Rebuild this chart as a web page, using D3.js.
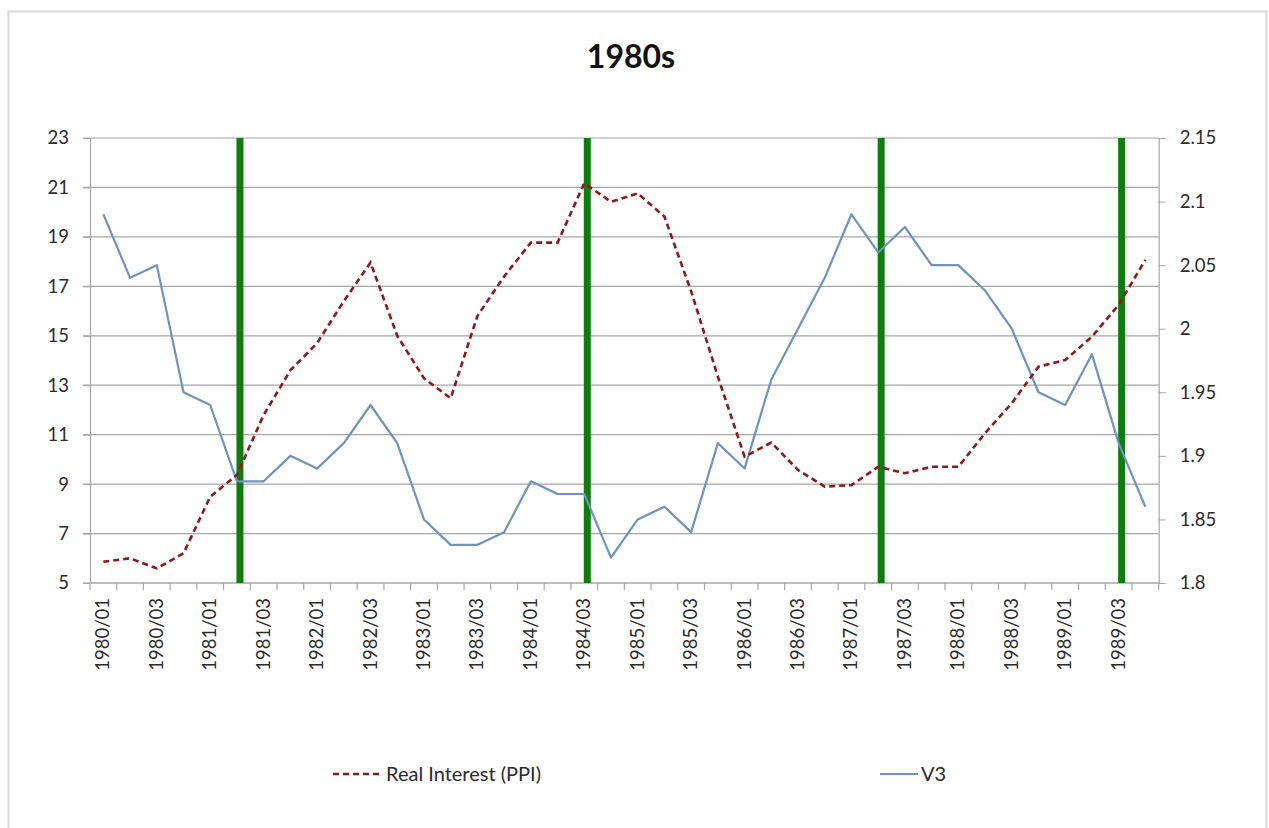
<!DOCTYPE html>
<html>
<head>
<meta charset="utf-8">
<script src="https://cdn.jsdelivr.net/npm/d3@7"></script>
<style>
  html, body { margin: 0; padding: 0; background: #fff; }
  svg { display: block; font-family: Lato, "Open Sans", sans-serif; }
</style>
</head>
<body>
<svg id="chart" width="1269" height="828"></svg>
<script>
// Quarterly periods, 1980 Q1 through 1989 Q4
const quarters = [];
for (let y = 1980; y <= 1989; y++) for (let q = 1; q <= 4; q++) quarters.push(`${y}/0${q}`);

// Real interest rate deflated by PPI (left axis)
const realInterest = [
  5.86, 6.0, 5.59, 6.2, 8.49, 9.37, 11.8, 13.6, 14.7, 16.4,
  17.96, 15.0, 13.28, 12.47, 15.8, 17.4, 18.77, 18.77, 21.17, 20.42,
  20.76, 19.82, 16.8, 13.35, 10.11, 10.68, 9.57, 8.9, 8.96, 9.7,
  9.44, 9.7, 9.7, 11.06, 12.27, 13.75, 14.02, 14.96, 16.25, 18.07
];

// V3 velocity (right axis)
const v3 = [
  2.09, 2.04, 2.05, 1.95, 1.94, 1.88, 1.88, 1.90, 1.89, 1.91,
  1.94, 1.91, 1.85, 1.83, 1.83, 1.84, 1.88, 1.87, 1.87, 1.82,
  1.85, 1.86, 1.84, 1.91, 1.89, 1.96, 2.00, 2.04, 2.09, 2.06,
  2.08, 2.05, 2.05, 2.03, 2.00, 1.95, 1.94, 1.98, 1.91, 1.86
];

// Quarters flagged with vertical markers
const markers = ["1981/02", "1984/03", "1987/02", "1989/03"];

const leftTicks = [5, 7, 9, 11, 13, 15, 17, 19, 21, 23];
const rightTicks = [1.8, 1.85, 1.9, 1.95, 2.0, 2.05, 2.1, 2.15];
const labelEvery = 2;

const svg = d3.select("#chart");
const m = { left: 90, right: 1158.7, top: 138, bottom: 583 };

// outer chart frame
svg.append("rect")
  .attr("x", 8.5).attr("y", 11.5).attr("width", 1258).attr("height", 830)
  .attr("fill", "#fff").attr("stroke", "#d9d9d9").attr("stroke-width", 2);

// title
svg.append("text")
  .attr("x", 631).attr("y", 68)
  .attr("text-anchor", "middle")
  .attr("font-size", 32).attr("font-weight", "bold").attr("fill", "#111")
  .text("1980s");

const x = d3.scaleBand().domain(quarters).range([m.left, m.right]);
const yL = d3.scaleLinear().domain([5, 23]).range([m.bottom, m.top]);
const yR = d3.scaleLinear().domain([1.8, 2.15]).range([m.bottom, m.top]);
const cx = d => x(d) + x.bandwidth() / 2;

// horizontal gridlines
svg.append("g").selectAll("line").data(leftTicks).join("line")
  .attr("x1", m.left - 7).attr("x2", m.right)
  .attr("y1", d => yL(d)).attr("y2", d => yL(d))
  .attr("stroke", "#a6a6a6").attr("stroke-width", 1.2);

// left axis
const gL = svg.append("g").attr("transform", `translate(${m.left},0)`)
  .call(d3.axisLeft(yL).tickValues(leftTicks).tickSize(7).tickPadding(14).tickFormat(d3.format("d")));
gL.select(".domain").attr("stroke", "#a6a6a6").attr("stroke-width", 1.2);
gL.selectAll(".tick line").attr("stroke", "#a6a6a6");
gL.selectAll("text").attr("font-size", 18.5).attr("fill", "#2b2b2b").attr("font-family", "Lato, sans-serif");

// right axis
const gR = svg.append("g").attr("transform", `translate(${m.right},0)`)
  .call(d3.axisRight(yR).tickValues(rightTicks).tickSize(7).tickPadding(14).tickFormat(d => String(+d.toFixed(2))));
gR.select(".domain").attr("stroke", "#a6a6a6").attr("stroke-width", 1.2);
gR.selectAll(".tick line").attr("stroke", "#a6a6a6");
gR.selectAll("text").attr("font-size", 18.5).attr("fill", "#2b2b2b").attr("font-family", "Lato, sans-serif");

// bottom axis: tick at every category boundary, labels every second quarter
const gB = svg.append("g").attr("transform", `translate(0,${m.bottom})`);
gB.append("line").attr("x1", m.left).attr("x2", m.right).attr("y1", 0).attr("y2", 0)
  .attr("stroke", "#a6a6a6").attr("stroke-width", 1.2);
const boundaries = quarters.map(q => x(q)).concat([m.right]);
gB.selectAll("line.tk").data(boundaries).join("line").attr("class", "tk")
  .attr("x1", d => d).attr("x2", d => d).attr("y1", 0).attr("y2", 7)
  .attr("stroke", "#a6a6a6").attr("stroke-width", 1.2);
gB.selectAll("text").data(quarters.filter((q, i) => i % labelEvery === 0)).join("text")
  .attr("transform", d => `translate(${cx(d) + 6},${15}) rotate(-90)`)
  .attr("text-anchor", "end")
  .attr("font-size", 18.5).attr("fill", "#2b2b2b")
  .text(d => d);

// vertical marker lines
svg.append("g").selectAll("line").data(markers).join("line")
  .attr("x1", d => cx(d) + 3).attr("x2", d => cx(d) + 3)
  .attr("y1", m.top).attr("y2", m.bottom)
  .attr("stroke", "#107c10").attr("stroke-width", 7);

// V3 series
svg.append("path").datum(v3)
  .attr("fill", "none").attr("stroke", "#6e93bf").attr("stroke-width", 2.2)
  .attr("stroke-linejoin", "round")
  .attr("d", d3.line().x((d, i) => cx(quarters[i])).y(d => yR(d)));

// Real interest series
svg.append("path").datum(realInterest)
  .attr("fill", "none").attr("stroke", "#8b1a1a").attr("stroke-width", 2.6)
  .attr("stroke-dasharray", "6,4")
  .attr("d", d3.line().x((d, i) => cx(quarters[i])).y(d => yL(d)));

// legend
const legend = [
  { name: "Real Interest (PPI)", color: "#8b1a1a", dash: "6,4", width: 2.6, x0: 333, x1: 383 },
  { name: "V3", color: "#6e93bf", dash: null, width: 2.2, x0: 880, x1: 918 }
];
const lg = svg.append("g").selectAll("g").data(legend).join("g");
lg.append("line")
  .attr("x1", d => d.x0).attr("x2", d => d.x1).attr("y1", 774).attr("y2", 774)
  .attr("stroke", d => d.color).attr("stroke-width", d => d.width)
  .attr("stroke-dasharray", d => d.dash);
lg.append("text")
  .attr("x", d => d.x1 + 3).attr("y", 781)
  .attr("font-size", 20).attr("fill", "#2b2b2b")
  .text(d => d.name);
</script>
</body>
</html>
